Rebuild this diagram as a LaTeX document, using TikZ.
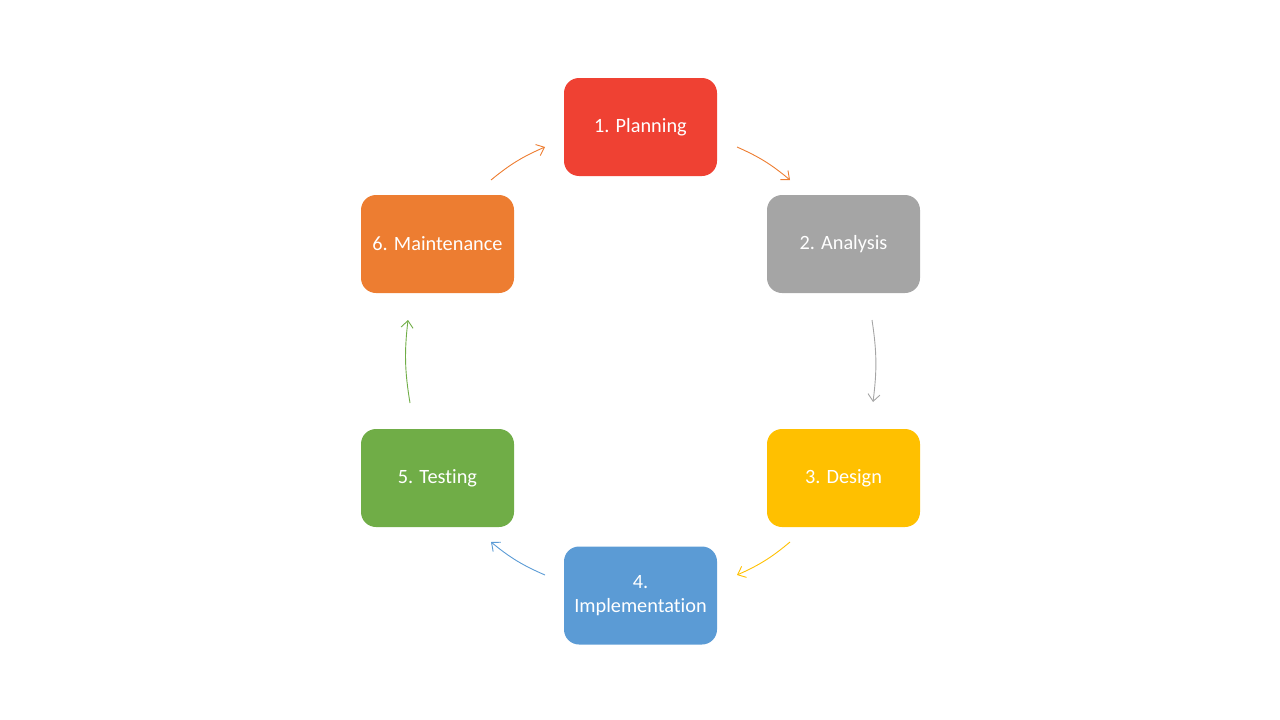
\documentclass[tikz,border=0pt]{standalone}
\usepackage{fontspec}
\setmainfont{Carlito}[Ligatures=NoCommon]
\usetikzlibrary{arrows.meta}
\usetikzlibrary{shapes}

\definecolor{phred}{HTML}{EF4133}
\definecolor{phgray}{HTML}{A5A5A5}
\definecolor{phyellow}{HTML}{FFC000}
\definecolor{phblue}{HTML}{5B9BD5}
\definecolor{phgreen}{HTML}{70AD47}
\definecolor{phorange}{HTML}{ED7D31}

\begin{document}
\begin{tikzpicture}[x=1pt,y=-1pt,
	phase/.style={rectangle,rounded corners=15pt,minimum width=153pt,minimum height=98pt,
		text=white,align=center,font=\fontsize{20.3}{24}\selectfont,inner sep=0pt},
	flow/.style={-{Straight Barb[length=7pt,width=12pt]},line width=0.9pt,bend left=8}]
	\useasboundingbox (0,0) rectangle (1280,720);
		% phases of the cycle
	\node[phase,fill=phred]    (plan)  at (640.5,127) {1. Planning};
	\node[phase,fill=phgray]   (anal)  at (843.5,244) {2. Analysis};
	\node[phase,fill=phyellow] (desi)  at (843.5,478) {3. Design};
	\node[phase,fill=phblue]   (impl)  at (640.5,595.5) {4.\\Implementation};
	\node[phase,fill=phgreen]  (test)  at (437.5,478) {5. Testing};
	\node[phase,fill=phorange] (maint) at (437.5,244) {6. Maintenance};

		% arrow ends
	\coordinate (plan-s)  at (737,147);  \coordinate (plan-e)  at (790,180);
	\coordinate (anal-s)  at (872,320);  \coordinate (anal-e)  at (873,402);
	\coordinate (desi-s)  at (790,542);  \coordinate (desi-e)  at (737,575);
	\coordinate (impl-s)  at (545,575);  \coordinate (impl-e)  at (491,542);
	\coordinate (test-s)  at (410,403);  \coordinate (test-e)  at (408,320);
	\coordinate (maint-s) at (491,180);  \coordinate (maint-e) at (545,147);

	\draw[flow,phorange] (plan-s)  to (plan-e);
	\draw[flow,phgray]   (anal-s)  to (anal-e);
	\draw[flow,phyellow] (desi-s)  to (desi-e);
	\draw[flow,phblue]   (impl-s)  to (impl-e);
	\draw[flow,phgreen]  (test-s)  to (test-e);
	\draw[flow,phorange] (maint-s) to (maint-e);
\end{tikzpicture}
\end{document}
